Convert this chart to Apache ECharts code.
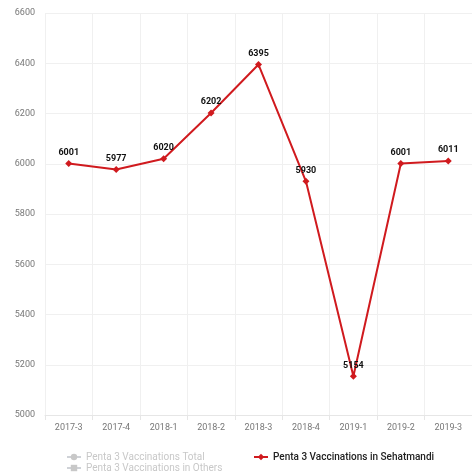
<!DOCTYPE html>
<html>
<head>
<meta charset="utf-8">
<script src="https://cdn.jsdelivr.net/npm/echarts@6/dist/echarts.min.js"></script>
<style>
html,body{margin:0;padding:0;background:#fff;}
#chart{width:472px;height:472px;}
</style>
</head>
<body>
<div id="chart"></div>
<script>
const categories = ['2017-3','2017-4','2018-1','2018-2','2018-3','2018-4','2019-1','2019-2','2019-3'];
const sehatmandi = [6001, 5977, 6020, 6202, 6395, 5930, 5154, 6001, 6011];
const totalValues = [];
const othersValues = [];
const seriesNames = ['Penta 3 Vaccinations Total', 'Penta 3 Vaccinations in Others', 'Penta 3 Vaccinations in Sehatmandi'];

const chart = echarts.init(document.getElementById('chart'));
const red = '#d01a1e';
const legendText = { fontSize: 10, color: '#222', fontFamily: 'Roboto' };
chart.setOption({
  animation: false,
  textStyle: { fontFamily: 'Roboto' },
  grid: { left: 45, right: -5, top: 13, bottom: 57, containLabel: false },
  legend: [
    {
      data: [seriesNames[0]], left: 61, top: 447,
      itemWidth: 14, itemHeight: 8,
      selected: { [seriesNames[0]]: false, [seriesNames[1]]: false },
      inactiveColor: '#c8c8c8', textStyle: legendText
    },
    {
      data: [seriesNames[1]], left: 61, top: 458,
      itemWidth: 14, itemHeight: 8,
      selected: { [seriesNames[0]]: false, [seriesNames[1]]: false },
      inactiveColor: '#c8c8c8', textStyle: legendText
    },
    {
      data: [seriesNames[2]], left: 248, top: 447,
      itemWidth: 14, itemHeight: 8,
      textStyle: Object.assign({}, legendText, { fontWeight: 500 })
    }
  ],
  xAxis: {
    type: 'category', data: categories, boundaryGap: true,
    axisLine: { lineStyle: { color: '#e6e6e6' } },
    axisTick: { show: true, length: 5, lineStyle: { color: '#e6e6e6' } },
    axisLabel: { color: '#777', fontSize: 9, margin: 8, interval: 0 },
    splitLine: { show: true, lineStyle: { color: '#f0f0f0' } }
  },
  yAxis: {
    type: 'value', min: 5000, max: 6600, interval: 200,
    axisLine: { show: false }, axisTick: { show: false },
    axisLabel: { color: '#777', fontSize: 9, margin: 10, formatter: v => String(v) },
    splitLine: { lineStyle: { color: '#f0f0f0' } }
  },
  series: [
    { name: seriesNames[0], type: 'line', data: totalValues, symbol: 'circle', itemStyle: { color: '#888' } },
    { name: seriesNames[1], type: 'line', data: othersValues, symbol: 'rect', itemStyle: { color: '#666' } },
    {
      name: seriesNames[2], type: 'line', data: sehatmandi,
      symbol: 'diamond', symbolSize: 7,
      lineStyle: { color: red, width: 2 },
      itemStyle: { color: red },
      label: { show: true, position: 'top', distance: 3, fontSize: 9, fontWeight: 'bold', color: '#111' }
    }
  ]
});
</script>
</body>
</html>
